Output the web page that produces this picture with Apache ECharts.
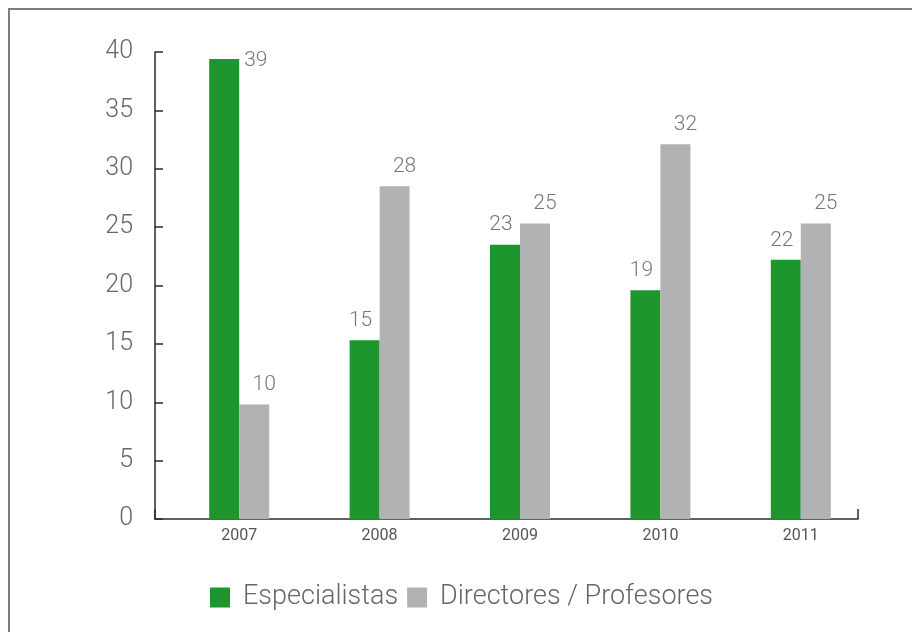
<!DOCTYPE html>
<html>
<head>
<meta charset="utf-8">
<script src="https://cdn.jsdelivr.net/npm/echarts@6/dist/echarts.min.js"></script>
<style>
  html, body { margin: 0; padding: 0; background: #fff; }
  #main { width: 912px; height: 632px; }
</style>
</head>
<body>
<div id="main"></div>
<script>
// данные с графика
const years = ['2007', '2008', '2009', '2010', '2011'];
const especialistas = [39.4, 15.3, 23.5, 19.6, 22.2];
const directores = [9.8, 28.5, 25.3, 32.1, 25.3];
const especialistasLabels = [39, 15, 23, 19, 22];
const directoresLabels = [10, 28, 25, 32, 25];
const seriesNames = ['Especialistas', 'Directores / Profesores'];

const font = 'Roboto';
const green = '#1e962e';
const gray = '#b1b2b4';

let chart = echarts.init(document.getElementById('main'));

let greenData = especialistas.map((v, i) => {
    if (i === 0) {
        // первая подпись стоит справа от столбика
        return { value: v, label: { position: [39, -5] } };
    }
    return v;
});

const option = {
    animation: false,
    backgroundColor: '#fff',
    graphic: [
        {
            type: 'rect',
            shape: { x: 9, y: 9, width: 940, height: 660 },
            style: { fill: 'none', stroke: '#7d7d7d', lineWidth: 2 },
            silent: true
        }
    ],
    legend: {
        left: 210,
        top: 584,
        padding: 0,
        itemWidth: 20,
        itemHeight: 20,
        itemGap: 9,
        icon: 'rect',
        textStyle: {
            fontFamily: font, fontWeight: 300, fontSize: 27, color: '#666',
            padding: [0, 0, 0, 8]
        },
        data: seriesNames
    },
    grid: [
        // сетка для столбиков
        { left: 169, right: 41, top: 52, bottom: 113 },
        // сетка для осей
        { left: 155, right: 54, top: 52, bottom: 113 }
    ],
    xAxis: [
        {
            type: 'category',
            gridIndex: 0,
            data: years,
            axisLine: { show: false },
            axisTick: { show: false },
            axisLabel: { fontFamily: font, fontSize: 16, color: '#555', margin: 9 }
        },
        {
            type: 'value',
            gridIndex: 1,
            min: 0,
            max: 1,
            interval: 1,
            axisLine: { show: true, lineStyle: { color: '#2b2b2b', width: 1.5 } },
            axisTick: { show: true, inside: true, length: 10, lineStyle: { color: '#2b2b2b', width: 1.5 } },
            axisLabel: { show: false },
            splitLine: { show: false }
        }
    ],
    yAxis: [
        {
            type: 'value',
            gridIndex: 0,
            min: 0,
            max: 40,
            show: false
        },
        {
            type: 'value',
            gridIndex: 1,
            min: 0,
            max: 40,
            interval: 5,
            axisLine: { show: true, lineStyle: { color: '#2b2b2b', width: 1.5 } },
            axisTick: { show: true, inside: true, length: 8, lineStyle: { color: '#2b2b2b', width: 1.5 } },
            axisLabel: { fontFamily: font, fontWeight: 300, fontSize: 25, color: '#666', margin: 22 },
            splitLine: { show: false }
        }
    ],
    series: [
        {
            name: seriesNames[0],
            type: 'bar',
            xAxisIndex: 0,
            yAxisIndex: 0,
            barWidth: 30,
            barGap: '0%',
            itemStyle: { color: green },
            data: greenData,
            label: {
                show: true,
                position: 'top',
                offset: [-4, -4],
                fontFamily: font,
                fontWeight: 300,
                fontSize: 21,
                color: '#777',
                formatter: p => especialistasLabels[p.dataIndex]
            }
        },
        {
            name: seriesNames[1],
            type: 'bar',
            xAxisIndex: 0,
            yAxisIndex: 0,
            barWidth: 30,
            barGap: '0%',
            itemStyle: { color: gray },
            data: directores,
            label: {
                show: true,
                position: 'top',
                offset: [10, -4],
                fontFamily: font,
                fontWeight: 300,
                fontSize: 21,
                color: '#777',
                formatter: p => directoresLabels[p.dataIndex]
            }
        }
    ]
};

chart.setOption(option);
</script>
</body>
</html>
